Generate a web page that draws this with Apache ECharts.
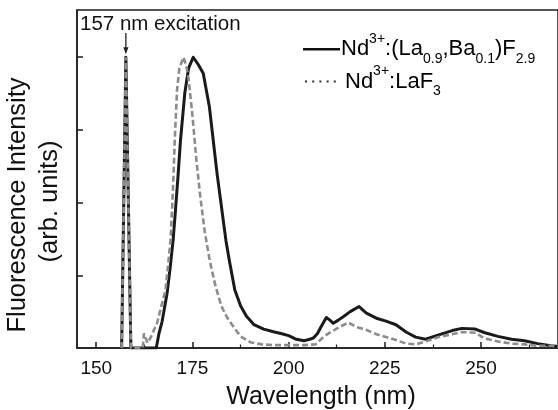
<!DOCTYPE html>
<html>
<head>
<meta charset="utf-8">
<script src="https://cdn.jsdelivr.net/npm/echarts@6/dist/echarts.min.js"></script>
<style>
  html, body { margin: 0; padding: 0; background: #fff; }
  #chart { width: 558px; height: 410px; }
</style>
</head>
<body>
<div id="chart"></div>
<script>
// Emission spectra under 157 nm excitation (normalised, arb. units)
const wlBaF = [156.6, 157.7, 159.0, 165.6, 166.3, 167.1, 168.4, 169.2, 170.0, 170.6, 171.3, 171.9, 173.0, 174.0, 175.2,
  176.5, 177.8, 179.4, 181.4, 183.7, 184.6, 186.0, 187.5, 189.0, 191.0, 193.5, 196.3, 198.0, 200.0, 202.0, 204.0,
  205.5, 206.5, 207.5, 208.5, 209.8, 210.8, 211.6, 212.8, 214.2, 216.0, 218.3, 220.2, 222.8, 225.3, 227.9, 230.5,
  233.0, 235.6, 239.0, 242.5, 245.0, 248.5, 251.0, 254.4, 257.9, 261.3, 264.7, 268.2, 270.0];
const intBaF = [0, 4.0, 0, 0, 0.2, 0.36, 0.75, 1.1, 1.5, 1.9, 2.4, 2.86, 3.5, 3.85, 4.0,
  3.9, 3.78, 3.32, 2.4, 1.48, 1.2, 0.8, 0.58, 0.44, 0.32, 0.26, 0.22, 0.2, 0.17, 0.12, 0.1,
  0.12, 0.14, 0.2, 0.3, 0.42, 0.38, 0.34, 0.38, 0.43, 0.5, 0.57, 0.48, 0.41, 0.37, 0.32, 0.22,
  0.15, 0.12, 0.18, 0.24, 0.27, 0.26, 0.21, 0.16, 0.12, 0.1, 0.06, 0.03, 0.02];

const wlLaF = [156.6, 157.7, 159.0, 162.1, 162.4, 163.3, 164.2, 165.0, 165.8, 166.8, 168.0, 168.6, 169.3, 169.7, 170.1,
  170.4, 171.0, 171.6, 172.7, 173.4, 174.0, 175.0, 176.0, 177.0, 178.2, 179.5, 181.0, 182.5, 184.0, 185.3, 187.5,
  190.0, 193.0, 196.0, 200.0, 204.0, 207.0, 208.2, 209.5, 211.0, 213.3, 215.5, 217.6, 220.2, 222.8, 225.3, 227.9,
  230.5, 233.0, 235.6, 239.0, 242.5, 245.0, 248.5, 251.0, 254.4, 257.9, 261.3, 264.7, 268.2, 270.0];
const intLaF = [0, 4.0, 0, 0, 0.2, 0.07, 0.15, 0.25, 0.34, 0.55, 0.8, 1.1, 1.48, 1.9, 2.4,
  2.86, 3.55, 3.85, 4.0, 3.88, 3.7, 3.2, 2.6, 2.1, 1.6, 1.2, 0.85, 0.58, 0.42, 0.32, 0.16,
  0.08, 0.05, 0.04, 0.04, 0.04, 0.05, 0.11, 0.17, 0.22, 0.29, 0.35, 0.29, 0.25, 0.19, 0.15, 0.11,
  0.06, 0.05, 0.09, 0.15, 0.19, 0.22, 0.21, 0.13, 0.09, 0.06, 0.05, 0.03, 0.03, 0.02];

const xMajorTicks = [150, 175, 200, 225, 250];
const xMinorTicks = [162.5, 187.5, 212.5, 237.5, 262.5];
const yTicks = [1, 2, 3, 4];
const excitationWl = 157.7;
const excitationPeak = 4.0;

const FONT = '"Liberation Sans", Arial, Helvetica, sans-serif';
const INK = '#1c1c1c';

const pairs = (xs, ys) => xs.map((x, i) => [x, ys[i]]);

const chart = echarts.init(document.getElementById('chart'), null, { renderer: 'canvas' });

const xBase = {
  type: 'value', min: 145, max: 270, gridIndex: 0, position: 'bottom',
  splitLine: { show: false }
};

chart.setOption({
  animation: false,
  backgroundColor: '#ffffff',
  grid: {
    left: 77, top: 10, right: -6, bottom: 62,
    show: true, borderColor: INK, borderWidth: 1.5, backgroundColor: 'transparent'
  },
  xAxis: [
    Object.assign({}, xBase, {
      axisLine: { show: true, lineStyle: { color: INK, width: 1.5 } },
      axisTick: { show: true, inside: true, length: 6, lineStyle: { color: INK, width: 1.5 }, customValues: xMajorTicks },
      axisLabel: { show: true, color: '#111', fontFamily: FONT, fontSize: 19, margin: 11, customValues: xMajorTicks }
    }),
    Object.assign({}, xBase, {
      axisLine: { show: false },
      axisTick: { show: true, inside: true, length: 3.5, lineStyle: { color: INK, width: 1.2 }, customValues: xMinorTicks },
      axisLabel: { show: false }
    })
  ],
  yAxis: {
    type: 'value', min: 0, max: 4.65,
    axisLine: { show: true, lineStyle: { color: INK, width: 1.5 } },
    axisTick: { show: true, inside: true, length: 6, lineStyle: { color: INK, width: 1.5 }, customValues: yTicks },
    axisLabel: { show: false },
    splitLine: { show: false }
  },
  series: [
    {
      name: 'BaF', type: 'line', xAxisIndex: 0, showSymbol: false, symbol: 'none',
      data: pairs(wlBaF, intBaF),
      lineStyle: { color: '#1a1a1a', width: 3, join: 'round' },
      z: 2
    },
    {
      name: 'LaF', type: 'line', xAxisIndex: 0, showSymbol: false, symbol: 'none',
      data: pairs(wlLaF, intLaF),
      lineStyle: { color: '#8c8c8c', width: 2.6, type: [6, 3] },
      z: 3
    }
  ]
});

// annotations and legend placed relative to the axes
const tip = chart.convertToPixel({ gridIndex: 0 }, [excitationWl, excitationPeak]);
const ax = tip[0], ay = tip[1] - 3;

const richBase = {
  b: { fontSize: 22, fontFamily: FONT, color: '#111', lineHeight: 34 },
  sup: { fontSize: 14, fontFamily: FONT, color: '#111', lineHeight: 14, verticalAlign: 'top' },
  sub: { fontSize: 14, fontFamily: FONT, color: '#111', lineHeight: 14, verticalAlign: 'bottom' }
};

chart.setOption({
  graphic: [
    {
      type: 'text', left: null, x: 80, y: 24,
      style: { text: '157 nm excitation', font: '20.5px ' + FONT, fill: '#111', textAlign: 'left', textVerticalAlign: 'middle' }
    },
    {
      type: 'line', shape: { x1: ax, y1: 33, x2: ax, y2: ay - 5 },
      style: { stroke: '#222', lineWidth: 1.3 }
    },
    {
      type: 'polygon', shape: { points: [[ax - 2.6, ay - 7], [ax + 2.6, ay - 7], [ax, ay]] },
      style: { fill: '#222' }
    },
    {
      type: 'line', shape: { x1: 303, y1: 49.3, x2: 340, y2: 49.3 },
      style: { stroke: '#111', lineWidth: 2.6 }
    },
    {
      type: 'text', x: 341, y: 49.3,
      style: {
        text: '{b|Nd}{sup|3+}{b|:(La}{sub|0.9}{b|,Ba}{sub|0.1}{b|)F}{sub|2.9}',
        rich: richBase, textAlign: 'left', textVerticalAlign: 'middle'
      }
    },
    {
      type: 'line', shape: { x1: 305, y1: 81.5, x2: 340, y2: 81.5 },
      style: { stroke: '#333', lineWidth: 2, lineDash: [2, 5.2] }
    },
    {
      type: 'text', x: 345, y: 81.5,
      style: {
        text: '{b|Nd}{sup|3+}{b|:LaF}{sub|3}',
        rich: richBase, textAlign: 'left', textVerticalAlign: 'middle'
      }
    },
    {
      type: 'text', x: 321, y: 397,
      style: { text: 'Wavelength (nm)', font: '25px ' + FONT, fill: '#111', textAlign: 'center', textVerticalAlign: 'middle' }
    },
    {
      type: 'text', x: 18, y: 205, rotation: Math.PI / 2,
      style: { text: 'Fluorescence Intensity', font: '25.5px ' + FONT, fill: '#111', textAlign: 'center', textVerticalAlign: 'middle' }
    },
    {
      type: 'text', x: 50, y: 201.5, rotation: Math.PI / 2,
      style: { text: '(arb. units)', font: '25.5px ' + FONT, fill: '#111', textAlign: 'center', textVerticalAlign: 'middle' }
    }
  ]
});
</script>
</body>
</html>
